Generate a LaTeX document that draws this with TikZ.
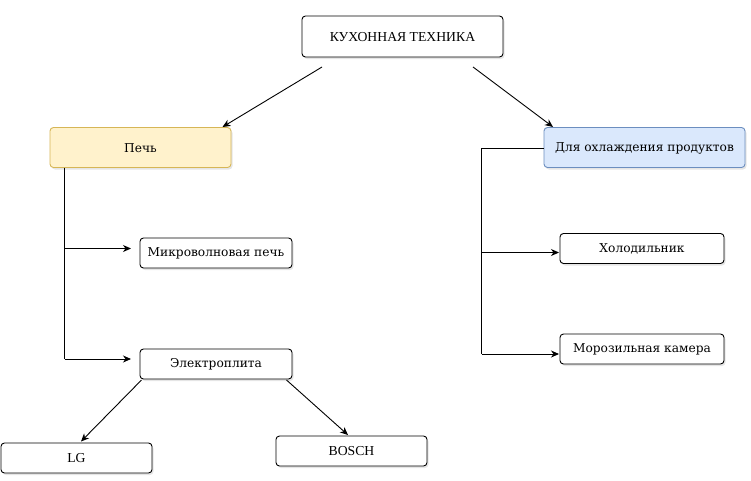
\documentclass[tikz,border=0pt]{standalone}
\usepackage{fontspec}
\setmainfont{DejaVu Serif}
\newfontfamily\capsfont{Liberation Serif}
\usetikzlibrary{arrows.meta,shadows}
\definecolor{yelfill}{HTML}{FFF2CC}
\definecolor{yeldraw}{HTML}{D6B656}
\definecolor{blufill}{HTML}{DAE8FC}
\definecolor{bludraw}{HTML}{6C8EBF}
\tikzset{
  box/.style={draw=black, fill=white, rounded corners=3.5pt, line width=0.9pt,
    drop shadow={shadow xshift=1.5pt, shadow yshift=-2pt, opacity=0.25, fill=black!40}},
  lbl/.style={font=\fontsize{12.2}{14}\selectfont},
  clbl/.style={font=\capsfont\fontsize{13.7}{15}\selectfont},
  conn/.style={draw=black, line width=0.9pt, -{Stealth[length=8pt,width=7pt,inset=2.5pt]}},
  seg/.style={draw=black, line width=0.9pt},
}
\begin{document}
\begin{tikzpicture}[x=1pt,y=-1pt]
\useasboundingbox (0,0) rectangle (751,480);
% boxes
\path[box] (302,16) rectangle (503,57);
\node[clbl] (top) at (402.5,37) {КУХОННАЯ ТЕХНИКА};
\path[box, draw=yeldraw, fill=yelfill] (50,127.5) rectangle (231,167.5);
\node[lbl] (pech) at (140.5,148) {Печь};
\path[box, draw=bludraw, fill=blufill] (544,127.5) rectangle (745,167.5);
\node[lbl] (cool) at (644.5,148) {Для охлаждения продуктов};
\path[box] (140,238) rectangle (292,268);
\node[lbl] (micro) at (216,253.5) {Микроволновая печь};
\path[box] (140,349) rectangle (292,379);
\node[lbl] (elec) at (216,364.5) {Электроплита};
\path[box] (1,443) rectangle (152,473);
\node[clbl] (lg) at (76.5,458.5) {LG};
\path[box] (276,436) rectangle (427,466);
\node[clbl] (bosch) at (351.5,451.5) {BOSCH};
\path[box] (560,233.5) rectangle (724,263.5);
\node[lbl] (fridge) at (642,249) {Холодильник};
\path[box] (560,334) rectangle (724,364);
\node[lbl] (freez) at (642,349.5) {Морозильная камера};
% anchor coordinates
\coordinate (t1) at (322,67);
\coordinate (p1) at (222.5,127);
\coordinate (t2) at (473,67);
\coordinate (c1) at (553,127);
\coordinate (pb) at (64.5,167.5);
\coordinate (pj1) at (64.5,248.5);
\coordinate (pj2) at (64.5,359);
\coordinate (ma) at (131,248.5);
\coordinate (ea) at (131,359);
\coordinate (cl) at (544,148);
\coordinate (ck) at (481.5,148);
\coordinate (cj1) at (481.5,252.5);
\coordinate (cj2) at (481.5,354);
\coordinate (fa) at (559,252.5);
\coordinate (za) at (559,354);
\coordinate (e1) at (141.5,380);
\coordinate (l1) at (81,441.5);
\coordinate (e2) at (286.5,380);
\coordinate (b1) at (348,435);
% connectors
\draw[conn] (t1) -- (p1);
\draw[conn] (t2) -- (c1);
\draw[seg] (pb) -- (pj2);
\draw[conn] (pj1) -- (ma);
\draw[conn] (pj2) -- (ea);
\draw[seg] (cl) -- (ck) -- (cj2);
\draw[conn] (cj1) -- (fa);
\draw[conn] (cj2) -- (za);
\draw[conn] (e1) -- (l1);
\draw[conn] (e2) -- (b1);
\end{tikzpicture}
\end{document}
